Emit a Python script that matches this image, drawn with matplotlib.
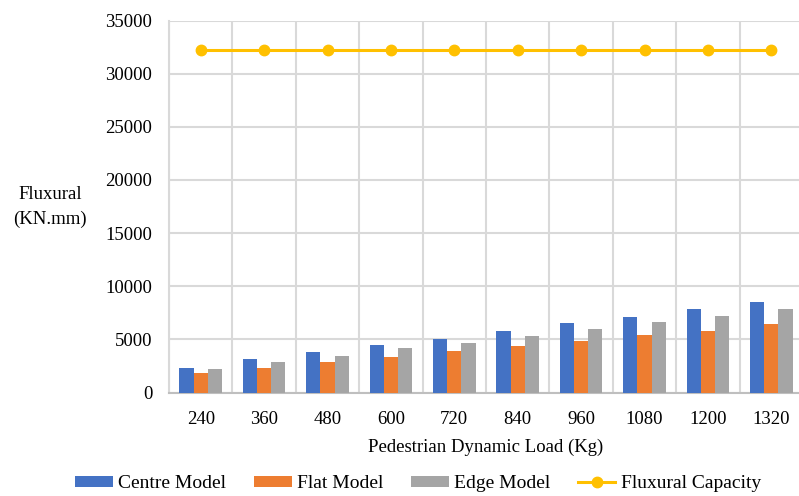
import numpy as np
from matplotlib import pyplot as plt

plt.rcParams['font.family'] = ['Liberation Serif', 'DejaVu Serif']

loads = ["240", "360", "480", "600", "720", "840", "960", "1080", "1200", "1320"]
centre_model = [2350, 3150, 3800, 4430, 5080, 5830, 6520, 7150, 7900, 8550]
flat_model = [1800, 2270, 2830, 3300, 3900, 4330, 4840, 5370, 5830, 6400]
edge_model = [2170, 2830, 3480, 4140, 4700, 5360, 6020, 6680, 7240, 7900]
capacity = [32200] * 10

fig = plt.figure(figsize=(7.99, 4.96), dpi=100)
# plot area runs a little past the right edge of the canvas
ax = fig.add_axes([169 / 799, 1 - 392.5 / 496, 634 / 799, 372 / 496])

x = np.arange(len(loads))
w = 0.223
b1 = ax.bar(x - w, centre_model, w, color='#4472C4', label='Centre Model', zorder=3)
b2 = ax.bar(x, flat_model, w, color='#ED7D31', label='Flat Model', zorder=3)
b3 = ax.bar(x + w, edge_model, w, color='#A5A5A5', label='Edge Model', zorder=3)
ln, = ax.plot(x, capacity, color='#FFC000', lw=2.2, marker='o', ms=7.5,
              label='Fluxural Capacity', zorder=4)

ax.set_xlim(-0.5, len(loads) - 0.5)
ax.set_ylim(0, 35000)
ax.set_yticks(np.arange(0, 35001, 5000))
ax.set_xticks(x)
ax.set_xticklabels(loads)
ax.tick_params(axis='both', length=0, labelsize=13.5)
ax.tick_params(axis='x', pad=13)
ax.tick_params(axis='y', pad=12)

# gridlines between categories
for b in np.arange(-0.5, len(loads), 1.0):
    ax.axvline(b, color='#D9D9D9', lw=1.5, zorder=1)
ax.yaxis.grid(True, color='#D9D9D9', lw=1.5, zorder=1)
ax.set_axisbelow(True)
for s in ['top', 'right']:
    ax.spines[s].set_visible(False)
ax.spines['left'].set_color('#D9D9D9')
ax.spines['bottom'].set_color('#BFBFBF')
ax.spines['left'].set_linewidth(1.5)
ax.spines['bottom'].set_linewidth(1.5)

ax.set_xlabel('Pedestrian Dynamic Load (Kg)', fontsize=13.5, labelpad=8)
fig.text(50 / 799, 1 - 207 / 496, 'Fluxural\n(KN.mm)', fontsize=13.5,
         ha='center', va='center', linespacing=1.55, multialignment='center')

fig.legend(handles=[b1, b2, b3, ln], loc='center',
           bbox_to_anchor=(418 / 799, 1 - 484 / 496), ncol=4,
           frameon=False, fontsize=14, handlelength=1.95, handleheight=0.47,
           columnspacing=1.42, handletextpad=0.26)

plt.savefig('out.png', dpi=100)
